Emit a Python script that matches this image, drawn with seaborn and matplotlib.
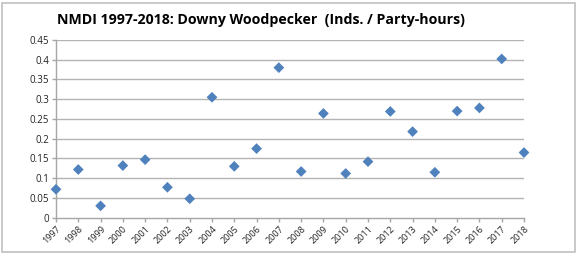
import matplotlib
matplotlib.use("Agg")
import matplotlib.pyplot as plt
import seaborn as sns
import pandas as pd
from matplotlib.patches import Rectangle

years = list(range(1997, 2019))
values = [0.072, 0.122, 0.030, 0.132, 0.147, 0.077, 0.048, 0.305, 0.130, 0.175,
          0.380, 0.117, 0.264, 0.112, 0.142, 0.269, 0.218, 0.115, 0.270, 0.278,
          0.402, 0.165]
yticks = [0, 0.05, 0.1, 0.15, 0.2, 0.25, 0.3, 0.35, 0.4, 0.45]
ytick_labels = ["0", "0.05", "0.1", "0.15", "0.2", "0.25", "0.3", "0.35", "0.4", "0.45"]
title = "NMDI 1997-2018: Downy Woodpecker  (Inds. / Party-hours)"

df = pd.DataFrame({"year": years, "value": values})

sns.set_style("white")
plt.rcParams["font.family"] = ["Open Sans", "DejaVu Sans"]

fig = plt.figure(figsize=(5.78, 2.54), dpi=100)
ax = fig.add_axes([56/578, 1 - 217.7/254, (524-56)/578, (217.7-40)/254])

sns.scatterplot(data=df, x="year", y="value", marker="D", s=30, color="#4f81bd",
                edgecolor="none", ax=ax, zorder=3, legend=False, clip_on=False)

ax.set_xlim(1997, 2018)
ax.set_ylim(0, 0.45)
ax.set_yticks(yticks)
ax.set_yticklabels(ytick_labels, fontsize=7, color="#222222")
ax.set_xticks(years)
ax.set_xticklabels([str(y) for y in years], rotation=45, ha="right",
                   rotation_mode="anchor", fontsize=6.5, color="#222222")
ax.set_xlabel("")
ax.set_ylabel("")
for yv in yticks[1:]:
    ax.axhline(yv, color="#b3b3b3", lw=1.0, zorder=1)
for s in ["top", "right"]:
    ax.spines[s].set_visible(False)
for s in ["left", "bottom"]:
    ax.spines[s].set_color("#a6a6a6")
    ax.spines[s].set_linewidth(1.0)
ax.tick_params(axis="both", length=3, width=1, color="#a6a6a6", pad=2,
               bottom=True, left=True)

fig.text(261/578, 1 - 20/254, title, ha="center", va="center", fontsize=10.2,
         fontweight="bold", color="#000000")

fig.patches.append(Rectangle((2/578, 2/254), 573/578, 249/254, transform=fig.transFigure,
                             fill=False, edgecolor="#c0c0c0", lw=1.2))

fig.savefig("out.png", dpi=100)
